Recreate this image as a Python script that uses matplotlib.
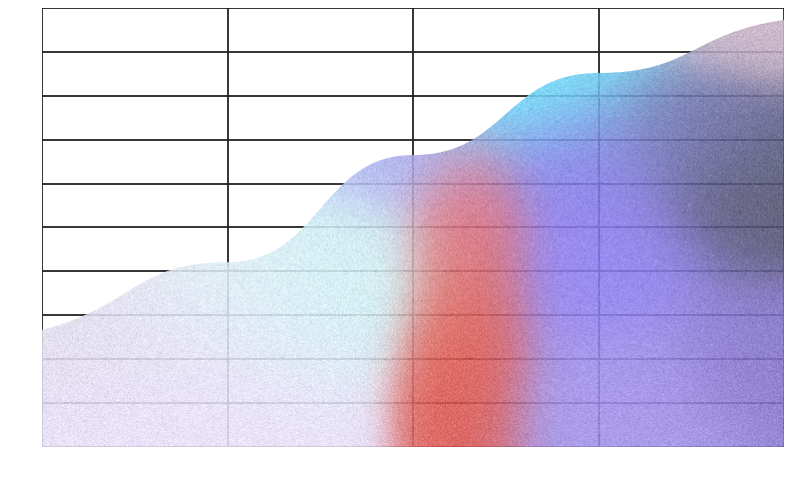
import numpy as np
import matplotlib
matplotlib.use("Agg")
import matplotlib.pyplot as plt
from matplotlib.path import Path
from matplotlib.patches import PathPatch
from matplotlib.colors import to_rgb

x_vals = [0, 1, 2, 3, 4]
y_vals = [2.67, 4.21, 6.65, 8.52, 9.73]

verts = [(x_vals[0], 0), (x_vals[0], y_vals[0])]
codes = [Path.MOVETO, Path.LINETO]
for i in range(len(x_vals) - 1):
    xm = (x_vals[i] + x_vals[i + 1]) / 2
    c1y = y_vals[i] + (0.35 * (y_vals[1] - y_vals[0]) if i == 0 else 0)
    c2y = y_vals[i + 1] - (0.25 * (y_vals[-1] - y_vals[-2]) if i == len(x_vals) - 2 else 0)
    verts += [(xm, c1y), (xm, c2y), (x_vals[i + 1], y_vals[i + 1])]
    codes += [Path.CURVE4] * 3
verts += [(x_vals[-1], 0), (x_vals[0], 0)]
codes += [Path.LINETO, Path.CLOSEPOLY]
path = Path(verts, codes)

fig = plt.figure(figsize=(8, 4.8), dpi=100)
ax = fig.add_axes([42/800, 33/480, 742/800, 439/480])
ax.set_xlim(0, 4); ax.set_ylim(0, 10)
ax.set_xticks(np.arange(0, 5, 1)); ax.set_yticks(np.arange(0, 11, 1))
ax.grid(True, color='#222222', linewidth=1.3)
ax.tick_params(length=0, labelbottom=False, labelleft=False)
for s in ax.spines.values():
    s.set_visible(False)
ax.set_axisbelow(True)

# x, y, colour, sigma_x, sigma_y (y in data units)
blobs = [
    (0.5, 1.2, '#e8e0fa', 0.6, 1.5),
    (0.0, 3.0, '#dcd8e6', 0.5, 1.3),
    (1.0, 4.0, '#e4eef8', 0.5, 1.3),
    (1.5, 4.2, '#c6f0f2', 0.4, 1.2),
    (2.3, 1.5, '#e04a3a', 0.18, 1.4),
    (2.3, 3.5, '#e05a50', 0.18, 1.4),
    (2.3, 5.3, '#e06878', 0.18, 0.9),
    (2.6, 8.2, '#6cdcf8', 0.4, 1.0),
    (1.9, 6.5, '#a8a8f0', 0.3, 0.8),
    (3.0, 4.0, '#8c7cf0', 0.35, 1.2),
    (3.1, 1.0, '#a090e8', 0.4, 1.2),
    (2.9, 6.3, '#8478e8', 0.3, 0.9),
    (3.85, 6.0, '#50506e', 0.3, 1.2),
    (3.5, 7.2, '#6f6fb0', 0.3, 0.8),
    (3.9, 9.6, '#c8b2c6', 0.3, 0.8),
    (3.9, 2.0, '#8070c8', 0.3, 1.0),
]
W, H = 740, 440
gx, gy = np.meshgrid(np.linspace(0, 4, W), np.linspace(0, 10, H))
num = np.zeros((H, W, 3)); den = np.zeros((H, W))
for bx, by, c, sx, sy in blobs:
    w = np.exp(-(((gx - bx) / sx) ** 2 + ((gy - by) / sy) ** 2) / 2)
    num += w[..., None] * np.array(to_rgb(c))
    den += w
img = num / den[..., None]
rng = np.random.default_rng(1)
img = np.clip(img + rng.normal(0, 0.035, (H, W, 1)), 0, 1)
im = ax.imshow(img, extent=(0, 4, 0, 10), origin='lower', aspect='auto', alpha=0.88, zorder=2)
patch = PathPatch(path, facecolor='none', edgecolor='none')
ax.add_patch(patch)
im.set_clip_path(patch)
fig.savefig('out.png', dpi=100)
